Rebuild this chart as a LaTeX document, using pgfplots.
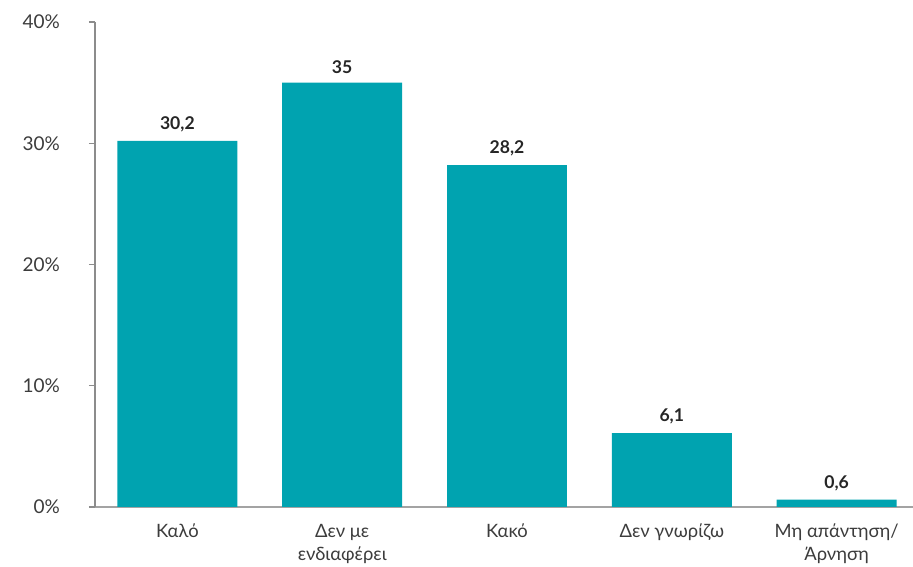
\documentclass[border=0pt]{standalone}
\usepackage{pgfplots}
\pgfplotsset{compat=1.18}
\usepackage{fontspec}
\setmainfont{Lato}
\definecolor{barteal}{RGB}{0,163,176}
\definecolor{axgray}{RGB}{140,140,140}
\definecolor{txtgray}{RGB}{60,60,60}
\begin{document}
\begin{tikzpicture}[font=\fontsize{9}{11}\selectfont]
\begin{axis}[
  at={(0,0)}, anchor=south west,
  scale only axis, width=412pt, height=242.5pt,
  xmin=-0.5, xmax=4.5, ymin=0, ymax=40,
  ytick={0,10,20,30,40},
  yticklabel={\pgfmathprintnumber{\tick}\%},
  /pgf/number format/assume math mode=true,
  axis x line*=bottom, axis y line*=left,
  x axis line style={-, draw=axgray!80, line width=1pt},
  y axis line style={-, draw=axgray, line width=0.6pt},
  ytick style={draw=axgray, line width=0.6pt},
  tick align=outside, major tick length=3pt,
  xtick=data, xtick style={draw=none},
  xticklabels={Καλό, {Δεν με\\ενδιαφέρει}, Κακό, Δεν γνωρίζω, {Μη απάντηση/\\Άρνηση}},
  xticklabel style={align=center, text=txtgray, font=\fontsize{9.2}{11.5}\selectfont, yshift=-2pt},
  yticklabel style={text=txtgray, font=\fontsize{9.5}{11}\selectfont, xshift=-11pt},
  ybar, bar width=0.728,
  nodes near coords,
  nodes near coords style={font=\fontsize{8.8}{10}\bfseries, text=black!85, /pgf/number format/use comma, /pgf/number format/fixed, yshift=1pt},
  clip=false,
]
\addplot[fill=barteal, draw=none] coordinates {(0,30.2) (1,35) (2,28.2) (3,6.1) (4,0.6)};
\end{axis}
\pgfresetboundingbox
\useasboundingbox (-47.5pt,-29.5pt) rectangle (409pt,253.5pt);
\end{tikzpicture}
\end{document}
